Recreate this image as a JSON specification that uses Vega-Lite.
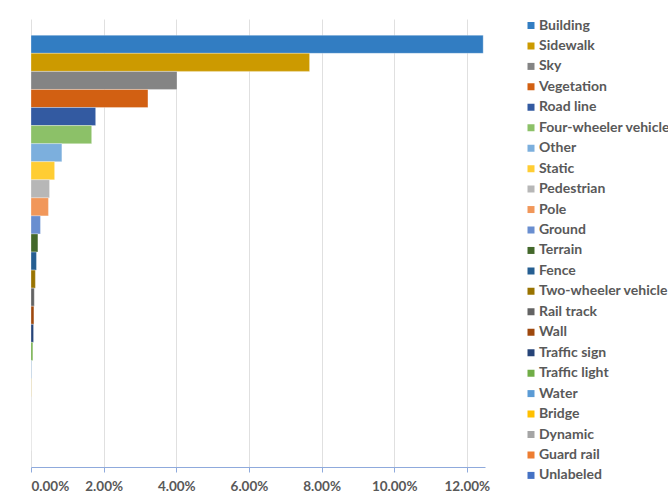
{
  "$schema": "https://vega.github.io/schema/vega-lite/v6.json",
  "autosize": "none",
  "width": 454,
  "height": 448,
  "padding": {"left": 31, "top": 19, "right": 183, "bottom": 31},
  "background": "white",
  "data": {
    "values": [
      {"class": "Building", "share": 0.1245},
      {"class": "Sidewalk", "share": 0.0767},
      {"class": "Sky", "share": 0.0402},
      {"class": "Vegetation", "share": 0.0322},
      {"class": "Road line", "share": 0.0178},
      {"class": "Four-wheeler vehicle", "share": 0.0167},
      {"class": "Other", "share": 0.0085},
      {"class": "Static", "share": 0.0065},
      {"class": "Pedestrian", "share": 0.0051},
      {"class": "Pole", "share": 0.0048},
      {"class": "Ground", "share": 0.0026},
      {"class": "Terrain", "share": 0.0019},
      {"class": "Fence", "share": 0.0015},
      {"class": "Two-wheeler vehicle", "share": 0.0012},
      {"class": "Rail track", "share": 0.0009},
      {"class": "Wall", "share": 0.0008},
      {"class": "Traffic sign", "share": 0.0007},
      {"class": "Traffic light", "share": 0.0005},
      {"class": "Water", "share": 0.0001},
      {"class": "Bridge", "share": 0.00005},
      {"class": "Dynamic", "share": 0},
      {"class": "Guard rail", "share": 0},
      {"class": "Unlabeled", "share": 0}
    ]
  },
  "mark": {"type": "bar", "stroke": "white", "strokeWidth": 0.5, "strokeOpacity": 0.6},
  "encoding": {
    "y": {
      "field": "class",
      "type": "nominal",
      "sort": null,
      "scale": {"paddingInner": 0, "paddingOuter": 0.9},
      "axis": null
    },
    "x": {
      "field": "share",
      "type": "quantitative",
      "scale": {"domain": [0, 0.125], "nice": false, "zero": true},
      "axis": {
        "values": [0, 0.02, 0.04, 0.06, 0.08, 0.1, 0.12],
        "format": ".2%",
        "domainColor": "#8FAADC",
        "domainWidth": 1,
        "tickColor": "#8FAADC",
        "tickSize": 5,
        "gridColor": "#E0E0E0",
        "gridWidth": 1,
        "labelFont": "Lato",
        "labelFontWeight": "bold",
        "labelFontSize": 13.5,
        "labelColor": "#595959",
        "labelPadding": 7,
        "title": null
      }
    },
    "color": {
      "field": "class",
      "type": "nominal",
      "sort": null,
      "scale": {
        "domain": ["Building", "Sidewalk", "Sky", "Vegetation", "Road line", "Four-wheeler vehicle", "Other", "Static", "Pedestrian", "Pole", "Ground", "Terrain", "Fence", "Two-wheeler vehicle", "Rail track", "Wall", "Traffic sign", "Traffic light", "Water", "Bridge", "Dynamic", "Guard rail", "Unlabeled"],
        "range": ["#327DC2", "#CC9A00", "#848484", "#D26012", "#335AA1", "#8CC168", "#7CAFDD", "#FFCD33", "#B7B7B7", "#F1975A", "#698ED0", "#43682B", "#255E91", "#997300", "#636363", "#9E480E", "#264478", "#70AD47", "#5B9BD5", "#FFC000", "#A5A5A5", "#ED7D31", "#4472C4"]
      },
      "legend": {
        "title": null,
        "orient": "none",
        "legendX": 493,
        "legendY": -3,
        "padding": 0,
        "symbolType": "square",
        "symbolSize": 49,
        "symbolStrokeWidth": 0,
        "labelFont": "Lato",
        "labelFontWeight": "bold",
        "labelFontSize": 14,
        "labelColor": "#595959",
        "labelOffset": 1,
        "labelLimit": 400,
        "clipHeight": 19,
        "rowPadding": 1.45
      }
    }
  },
  "config": {"view": {"stroke": null}}
}
